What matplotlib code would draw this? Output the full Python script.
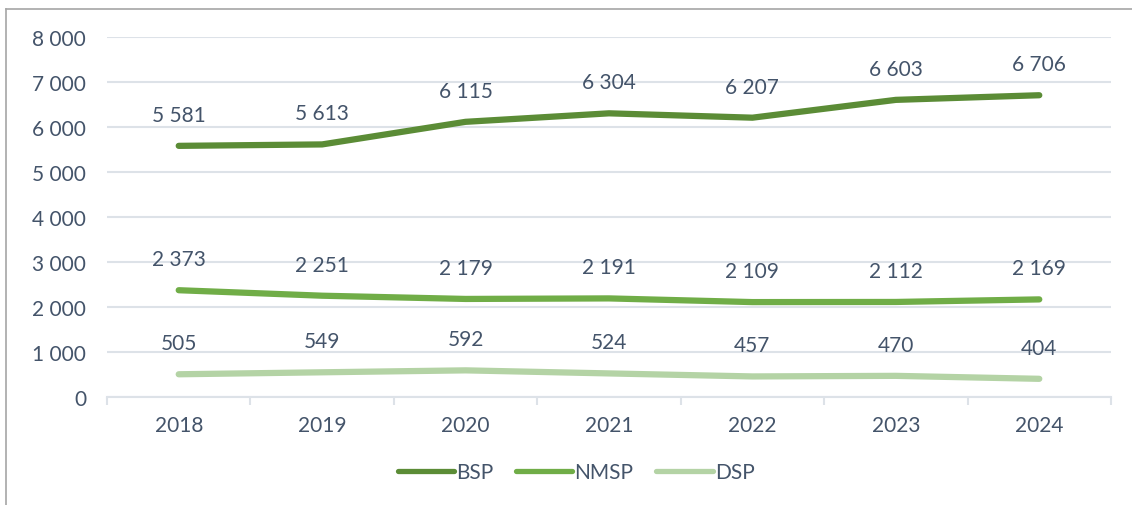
import numpy as np
import matplotlib
matplotlib.use('Agg')
import matplotlib.pyplot as plt
from matplotlib.lines import Line2D

years = ['2018', '2019', '2020', '2021', '2022', '2023', '2024']
bsp = [5581, 5613, 6115, 6304, 6207, 6603, 6706]
nmsp = [2373, 2251, 2179, 2191, 2109, 2112, 2169]
dsp = [505, 549, 592, 524, 457, 470, 404]
y_ticks = [0, 1000, 2000, 3000, 4000, 5000, 6000, 7000, 8000]

TXT = '#44546a'
GRID = '#dde2e8'
FS = 15
plt.rcParams['font.family'] = ['Lato', 'DejaVu Sans']


def fmt(v):
    return f'{v:,}'.replace(',', ' ')


fig = plt.figure(figsize=(11.32, 5.06), dpi=100)
ax = fig.add_axes([107 / 1132, 1 - 398 / 506, (1111 - 107) / 1132, (398 - 38) / 506])

x = np.arange(len(years))
series = [('BSP', bsp, '#5b8c36'), ('NMSP', nmsp, '#70ad47'), ('DSP', dsp, '#b4d3a5')]
for name, vals, col in series:
    ax.plot(x, vals, color=col, lw=4.5, solid_capstyle='round', label=name)
    for xi, v in zip(x, vals):
        ax.annotate(fmt(v), (xi, v), xytext=(0, 31), textcoords='offset pixels',
                    ha='center', va='center', fontsize=FS, color=TXT)

ax.set_xlim(-0.5, len(years) - 0.5)
ax.set_ylim(0, 8000)
ax.set_yticks(y_ticks)
ax.set_yticklabels([fmt(t) for t in y_ticks])
ax.set_xticks(x)
ax.set_xticklabels(years)
ax.set_xticks(np.arange(-0.5, len(years)), minor=True)
ax.tick_params(axis='x', which='major', length=0, pad=13, labelsize=FS, labelcolor=TXT)
ax.tick_params(axis='x', which='minor', length=6, width=1.5, color=GRID, direction='out')
ax.tick_params(axis='y', length=0, pad=15, labelsize=FS, labelcolor=TXT)
ax.grid(axis='y', color=GRID, lw=1.5)
ax.set_axisbelow(True)
for s in ['top', 'right', 'left']:
    ax.spines[s].set_visible(False)
ax.spines['bottom'].set_color(GRID)
ax.spines['bottom'].set_linewidth(1.5)

leg = fig.legend(loc='center', bbox_to_anchor=(576 / 1132, 1 - 473 / 506), ncol=3,
                 frameon=False, fontsize=FS, handlelength=2.7, handletextpad=0.1,
                 columnspacing=1.1)
for t in leg.get_texts():
    t.set_color(TXT)
for h in leg.get_lines():
    h.set_linewidth(3.8)
    h.set_solid_capstyle('round')

# outer frame (top and left edges visible)
fig.add_artist(Line2D([6 / 1132, 1], [1 - 10 / 506, 1 - 10 / 506], transform=fig.transFigure,
                      color='#a6a6a6', lw=1.2))
fig.add_artist(Line2D([6 / 1132, 6 / 1132], [0, 1 - 10 / 506], transform=fig.transFigure,
                      color='#a6a6a6', lw=1.2))

fig.savefig('out.png', dpi=100)
